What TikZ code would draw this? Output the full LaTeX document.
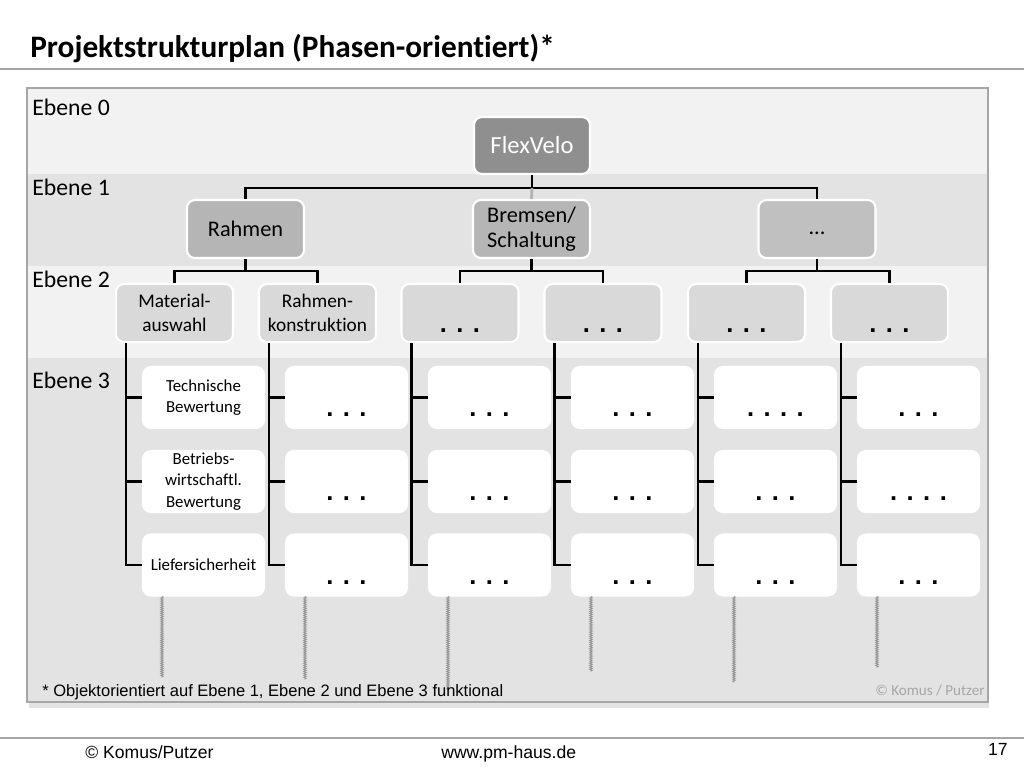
\documentclass[tikz,border=0pt]{standalone}
\usepackage{fontspec}
\setmainfont{Carlito}[Ligatures=NoCommon]
\newfontfamily\arialfont{Liberation Sans}
\usepackage{tikz}
\usetikzlibrary{calc,decorations.pathmorphing}
\definecolor{bandlight}{HTML}{F2F2F2}
\definecolor{banddark}{HTML}{E3E3E3}
\definecolor{fillzero}{HTML}{8F8F8F}
\definecolor{fillone}{HTML}{B5B5B5}
\definecolor{filltwo}{HTML}{D9D9D9}
\tikzstyle{box}=[rectangle, rounded corners=4.5pt, draw=white, line width=1.2pt, align=center, inner sep=1pt]
\tikzstyle{label}=[anchor=base west, inner sep=0pt]
\tikzset{lvlzero/.style={box, fill=fillzero, text=white, minimum width=2.32cm, minimum height=1.14cm,
      font=\fontsize{14}{17}\selectfont},
  lvlone/.style={box, fill=fillone, minimum width=2.34cm, minimum height=1.16cm,
      font=\fontsize{12.7}{14.5}\selectfont},
  lvltwo/.style={box, fill=filltwo, minimum width=2.34cm, minimum height=1.16cm,
      font=\fontsize{11}{13.5}\selectfont},
  lvlthree/.style={box, fill=white, minimum width=2.42cm, minimum height=1.22cm,
      font=\fontsize{9.6}{12}\selectfont},
  conn/.style={line width=1.6pt},
  rope/.style={gray!85, line width=0.45pt, decorate,
      decoration={zigzag, segment length=1.1pt, amplitude=0.7pt}}}
\newcommand{\wbsdots}[1][. . .]{\smash{\raisebox{-11pt}{\arialfont\bfseries\fontsize{14.5}{14.5}\selectfont #1}}}

\begin{document}
\begin{tikzpicture}[x=0.02cm, y=-0.02cm]
    \useasboundingbox (0,0) rectangle (1024,768);
    % title and slide rules
    \node[label, font=\bfseries\fontsize{17.8}{21}\selectfont] (title) at (30,57) {Projektstrukturplan (Phasen-orientiert)*};
    \draw[gray!70, line width=0.8pt] (0,69) -- (1024,69);
    \draw[gray!70, line width=0.8pt] (0,738) -- (1024,738);
    % frame with level bands
    \fill[gray!22] (29,93) rectangle (989,708);
    \fill[bandlight] (27,88) rectangle (988,174);
    \fill[banddark] (27,174) rectangle (988,266);
    \fill[bandlight] (27,266) rectangle (988,358);
    \fill[banddark] (27,358) rectangle (988,702);
    \draw[gray!70, line width=0.6pt] (27,88) rectangle (988,702);
    \node[label, font=\fontsize{13.5}{16}\selectfont] (ebene0) at (32,115) {Ebene 0};
    \node[label, font=\fontsize{13.5}{16}\selectfont] (ebene1) at (32,195) {Ebene 1};
    \node[label, font=\fontsize{13.5}{16}\selectfont] (ebene2) at (32,287) {Ebene 2};
    \node[label, font=\fontsize{13.5}{16}\selectfont] (ebene3) at (32,388) {Ebene 3};
    % levels 0 to 2
    \node[lvlzero] (flex) at (532,145.5) {FlexVelo};
    \node[lvlone] (rahmen) at (245.5,229) {Rahmen};
    \node[lvlone] (bremsen) at (531.5,229) {Bremsen/\\Schaltung};
    \node[lvlone, fill=fillone!85] (etc) at (817,229) {\vphantom{Ag}...};
    \node[lvltwo] (mat) at (174.5,313) {Material-\\auswahl};
    \node[lvltwo] (konst) at (317.5,313) {Rahmen-\\konstruktion};
    \node[lvltwo] (bra) at (460,313) {\wbsdots};
    \node[lvltwo] (brb) at (603,313) {\wbsdots};
    \node[lvltwo] (etca) at (746.5,313) {\wbsdots};
    \node[lvltwo] (etcb) at (889.5,313) {\wbsdots};
    % level 3
    \node[lvlthree] (m1) at (203.5,397.5) {Technische\\Bewertung};
    \node[lvlthree] (m2) at (203.5,481.5) {Betriebs-\\wirtschaftl.\\Bewertung};
    \node[lvlthree] (m3) at (203.5,565) {Liefersicherheit};
    \node[lvlthree] (k1) at (346.5,397.5) {\wbsdots};
    \node[lvlthree] (k2) at (346.5,481.5) {\wbsdots};
    \node[lvlthree] (k3) at (346.5,565) {\wbsdots};
    \node[lvlthree] (p1) at (489.5,397.5) {\wbsdots};
    \node[lvlthree] (p2) at (489.5,481.5) {\wbsdots};
    \node[lvlthree] (p3) at (489.5,565) {\wbsdots};
    \node[lvlthree] (q1) at (632.5,397.5) {\wbsdots};
    \node[lvlthree] (q2) at (632.5,481.5) {\wbsdots};
    \node[lvlthree] (q3) at (632.5,565) {\wbsdots};
    \node[lvlthree] (r1) at (775.5,397.5) {\wbsdots[. . . .]};
    \node[lvlthree] (r2) at (775.5,481.5) {\wbsdots};
    \node[lvlthree] (r3) at (775.5,565) {\wbsdots};
    \node[lvlthree] (s1) at (918.5,397.5) {\wbsdots};
    \node[lvlthree] (s2) at (918.5,481.5) {\wbsdots[. . . .]};
    \node[lvlthree] (s3) at (918.5,565) {\wbsdots};
    % connectors
    \draw[conn] (flex.south) -- ++(0,13) -| (rahmen.north);
    \draw[conn] (flex.south) -- ++(0,13) -| (etc.north);
    \draw[conn, gray!60] (flex.south) ++(0,13) -- (bremsen.north);
    \draw[conn] (rahmen.south) -- ++(0,12) -| (mat.north);
    \draw[conn] (rahmen.south) -- ++(0,12) -| (konst.north);
    \draw[conn] (bremsen.south) -- ++(0,12) -| (bra.north);
    \draw[conn] (bremsen.south) -- ++(0,12) -| (brb.north);
    \draw[conn] (etc.south) -- ++(0,12) -| (etca.north);
    \draw[conn] (etc.south) -- ++(0,12) -| (etcb.north);
    \foreach \p/\c/\len in {mat/m/81, konst/k/83, bra/p/93, brb/q/75, etca/r/86, etcb/s/71} {
      \draw[conn] ($(\p.south west)+(11,0)$) |- (\c3.west);
      \draw[conn] (\c1.west) -- ++(-16,0);
      \draw[conn] (\c2.west) -- ++(-16,0);
      \draw[rope] ($(\c3.south west)+(20,0)$) -- ++(0,\len);
    }
    % notes and footer
    \node[label, font=\arialfont\fontsize{9.4}{11}\selectfont] (note) at (42,696) {* Objektorientiert auf Ebene 1, Ebene 2 und Ebene 3 funktional};
    \node[anchor=base east, inner sep=0pt, text=gray!70, font=\fontsize{8.6}{10}\selectfont] (credit) at (985,695) {© Komus / Putzer};
    \node[label, font=\arialfont\fontsize{10}{12}\selectfont] (footl) at (85,758) {© Komus/Putzer};
    \node[label, font=\arialfont\fontsize{10}{12}\selectfont] (footm) at (441,758) {www.pm-haus.de};
    \node[anchor=base east, inner sep=0pt, font=\arialfont\fontsize{10}{12}\selectfont] (page) at (1008,755) {17};
\end{tikzpicture}
\end{document}
